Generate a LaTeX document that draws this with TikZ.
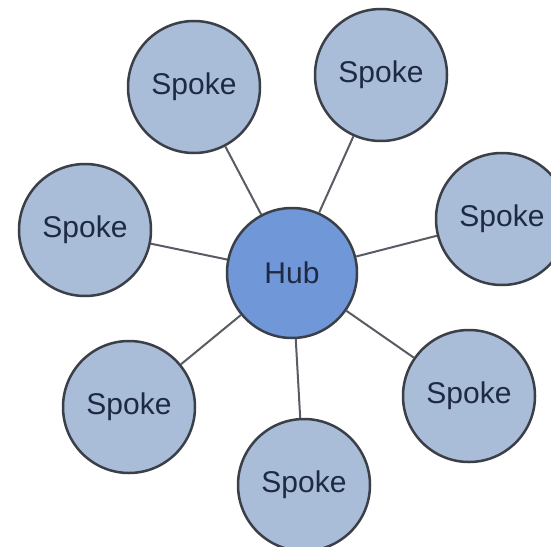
\documentclass[tikz,border=0pt]{standalone}
\usepackage{fontspec}
\setmainfont{Liberation Sans}
\usepackage{tikz}

\definecolor{spokefill}{HTML}{A9BCD8}
\definecolor{hubfill}{HTML}{7097D8}
\definecolor{rim}{HTML}{3A3F48}
\definecolor{ink}{HTML}{1E2A44}

\begin{document}
\begin{tikzpicture}[x=1pt, y=-1pt,
		spoke/.style = {circle, draw = rim, line width = 2.5pt, fill = spokefill,
			minimum size = 132pt, inner sep = 0pt, text = ink,
			font = \fontsize{30}{32}\selectfont},
		hub/.style = {spoke, fill = hubfill, minimum size = 130pt},
		link/.style = {draw = rim!85, line width = 2pt}]
		\def\W{551};
		\def\H{546};

		\useasboundingbox (0,0) rectangle (\W,\H);
		\clip (0,0) rectangle (\W,\H);

		\node [hub] (hub) at (292,273) {Hub};

		\node [spoke] (topleft) at (194,87) {Spoke};
		\node [spoke] (topright) at (381,75) {Spoke};
		\node [spoke] (left) at (85,230) {Spoke};
		\node [spoke] (right) at (502,219) {Spoke};
		\node [spoke] (botleft) at (129,407) {Spoke};
		\node [spoke] (botright) at (469,396) {Spoke};
		\node [spoke] (bottom) at (304,485) {Spoke};

		\begin{scope}[link]
			\draw (hub) -- (topleft);
			\draw (hub) -- (topright);
			\draw (hub) -- (left);
			\draw (hub) -- (right);
			\draw (hub) -- (botleft);
			\draw (hub) -- (botright);
			\draw (hub) -- (bottom);
		\end{scope}
	\end{tikzpicture}
\end{document}
